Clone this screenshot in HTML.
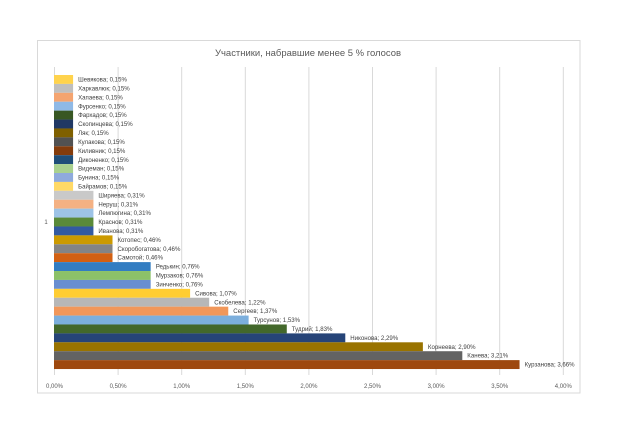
<!DOCTYPE html>
<html>
<head>
<meta charset="utf-8">
<style>
  html,body{margin:0;padding:0;background:#fff;}
  svg{display:block;}
  text{font-family:"Liberation Sans","DejaVu Sans",sans-serif;}
</style>
</head>
<body>
<svg width="624" height="441" viewBox="0 0 624 441" xmlns="http://www.w3.org/2000/svg">
  <rect x="0" y="0" width="624" height="441" fill="#ffffff"/>
  <rect x="37.5" y="40.5" width="542.5" height="352.5" fill="#ffffff" stroke="#d9d9d9" stroke-width="1"/>
  <text x="308" y="56" font-size="9.5" fill="#595959" text-anchor="middle" textLength="186" lengthAdjust="spacingAndGlyphs">Участники, набравшие менее 5 % голосов</text>

  <!-- gridlines -->
  <g stroke="#d9d9d9" stroke-width="1">
    <line x1="54.5" y1="67" x2="54.5" y2="375"/>
    <line x1="118.1" y1="67" x2="118.1" y2="375"/>
    <line x1="181.7" y1="67" x2="181.7" y2="375"/>
    <line x1="245.3" y1="67" x2="245.3" y2="375"/>
    <line x1="308.9" y1="67" x2="308.9" y2="375"/>
    <line x1="372.5" y1="67" x2="372.5" y2="375"/>
    <line x1="436.1" y1="67" x2="436.1" y2="375"/>
    <line x1="499.7" y1="67" x2="499.7" y2="375"/>
    <line x1="563.3" y1="67" x2="563.3" y2="375"/>
  </g>

  <!-- tick labels -->
  <g font-size="6" fill="#595959" text-anchor="middle">
    <text x="54.5" y="388">0,00%</text>
    <text x="118.1" y="388">0,50%</text>
    <text x="181.7" y="388">1,00%</text>
    <text x="245.3" y="388">1,50%</text>
    <text x="308.9" y="388">2,00%</text>
    <text x="372.5" y="388">2,50%</text>
    <text x="436.1" y="388">3,00%</text>
    <text x="499.7" y="388">3,50%</text>
    <text x="563.3" y="388">4,00%</text>
  </g>
  <text x="46" y="224" font-size="6" fill="#595959" text-anchor="middle">1</text>

  <!-- bars -->
  <g id="bars"></g>
  <g id="labels" font-size="6.1" fill="#404040"></g>

  <!-- static bars -->
  <g>
    <rect x="54" y="75.00" width="19.08" height="8.92" fill="#FFD34D"/>
    <rect x="54" y="83.91" width="19.08" height="8.92" fill="#BFBFBF"/>
    <rect x="54" y="92.82" width="19.08" height="8.92" fill="#F4A470"/>
    <rect x="54" y="101.73" width="19.08" height="8.92" fill="#8FB9E6"/>
    <rect x="54" y="110.64" width="19.08" height="8.92" fill="#385723"/>
    <rect x="54" y="119.55" width="19.08" height="8.92" fill="#203864"/>
    <rect x="54" y="128.46" width="19.08" height="8.92" fill="#7F6000"/>
    <rect x="54" y="137.37" width="19.08" height="8.92" fill="#525252"/>
    <rect x="54" y="146.28" width="19.08" height="8.92" fill="#843C0C"/>
    <rect x="54" y="155.19" width="19.08" height="8.92" fill="#1F4E79"/>
    <rect x="54" y="164.10" width="19.08" height="8.92" fill="#A9D18E"/>
    <rect x="54" y="173.01" width="19.08" height="8.92" fill="#8FAADC"/>
    <rect x="54" y="181.92" width="19.08" height="8.92" fill="#FFD966"/>
    <rect x="54" y="190.83" width="39.43" height="8.92" fill="#C9C9C9"/>
    <rect x="54" y="199.74" width="39.43" height="8.92" fill="#F4B183"/>
    <rect x="54" y="208.65" width="39.43" height="8.92" fill="#9DC3E6"/>
    <rect x="54" y="217.56" width="39.43" height="8.92" fill="#5A8A39"/>
    <rect x="54" y="226.47" width="39.43" height="8.92" fill="#335AA1"/>
    <rect x="54" y="235.38" width="58.51" height="8.92" fill="#CC9A00"/>
    <rect x="54" y="244.29" width="58.51" height="8.92" fill="#848484"/>
    <rect x="54" y="253.20" width="58.51" height="8.92" fill="#D26012"/>
    <rect x="54" y="262.11" width="96.67" height="8.92" fill="#327DC2"/>
    <rect x="54" y="271.02" width="96.67" height="8.92" fill="#8CC168"/>
    <rect x="54" y="279.93" width="96.67" height="8.92" fill="#698ED0"/>
    <rect x="54" y="288.84" width="136.10" height="8.92" fill="#FFCD33"/>
    <rect x="54" y="297.75" width="155.18" height="8.92" fill="#B7B7B7"/>
    <rect x="54" y="306.66" width="174.26" height="8.92" fill="#F1975A"/>
    <rect x="54" y="315.57" width="194.62" height="8.92" fill="#7CAFDD"/>
    <rect x="54" y="324.48" width="232.78" height="8.92" fill="#43682B"/>
    <rect x="54" y="333.39" width="291.29" height="8.92" fill="#264478"/>
    <rect x="54" y="342.30" width="368.88" height="8.92" fill="#997300"/>
    <rect x="54" y="351.21" width="408.31" height="8.92" fill="#636363"/>
    <rect x="54" y="360.12" width="465.55" height="8.92" fill="#9E480E"/>
  </g>

  <g font-size="6.1" fill="#404040">
    <text x="78.1" y="81.6">Шевякова; 0,15%</text>
    <text x="78.1" y="90.5">Харкавлюк; 0,15%</text>
    <text x="78.1" y="99.4">Хапаева; 0,15%</text>
    <text x="78.1" y="108.3">Фурсенко; 0,15%</text>
    <text x="78.1" y="117.2">Фархадов; 0,15%</text>
    <text x="78.1" y="126.1">Скопинцева; 0,15%</text>
    <text x="78.1" y="135.0">Ляк; 0,15%</text>
    <text x="78.1" y="143.9">Кулакова; 0,15%</text>
    <text x="78.1" y="152.8">Киливник; 0,15%</text>
    <text x="78.1" y="161.8">Диконенко; 0,15%</text>
    <text x="78.1" y="170.7">Видеман; 0,15%</text>
    <text x="78.1" y="179.6">Бунина; 0,15%</text>
    <text x="78.1" y="188.5">Байрамов; 0,15%</text>
    <text x="98.4" y="197.4">Ширяева; 0,31%</text>
    <text x="98.4" y="206.3">Неруш; 0,31%</text>
    <text x="98.4" y="215.2">Лемпюгина; 0,31%</text>
    <text x="98.4" y="224.1">Краснов; 0,31%</text>
    <text x="98.4" y="233.0">Иванова; 0,31%</text>
    <text x="117.5" y="241.9">Котопес; 0,46%</text>
    <text x="117.5" y="250.8">Скоробогатова; 0,46%</text>
    <text x="117.5" y="259.7">Самотой; 0,46%</text>
    <text x="155.7" y="268.7">Редькин; 0,76%</text>
    <text x="155.7" y="277.6">Мурзаков; 0,76%</text>
    <text x="155.7" y="286.5">Зинченко; 0,76%</text>
    <text x="195.1" y="295.4">Сивова; 1,07%</text>
    <text x="214.2" y="304.3">Скобелева; 1,22%</text>
    <text x="233.3" y="313.2">Сергеев; 1,37%</text>
    <text x="253.6" y="322.1">Турсунов; 1,53%</text>
    <text x="291.8" y="331.0">Тудрий; 1,83%</text>
    <text x="350.3" y="339.9">Никонова; 2,29%</text>
    <text x="427.9" y="348.8">Корнеева; 2,90%</text>
    <text x="467.3" y="357.7">Канева; 3,21%</text>
    <text x="524.6" y="366.6">Курзанова; 3,66%</text>
  </g>
</svg>
</body>
</html>
